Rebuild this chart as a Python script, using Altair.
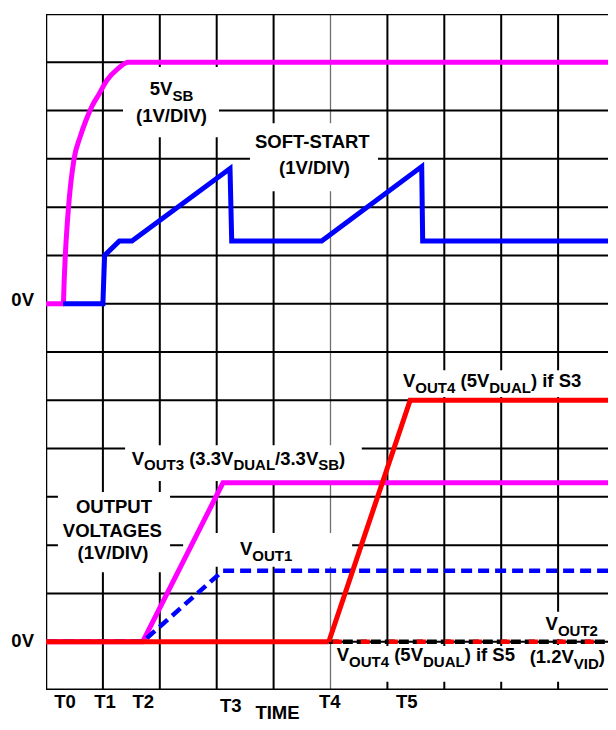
import altair as alt
import pandas as pd

# ---------------- data (x in time divisions, y in 1V divisions) ----------------
grid_cols = [0, 1, 2, 3, 4, 6, 7, 8, 9, 10]
grey_col = [5]
grid_rows = list(range(1, 14))

# upper traces (0V at division 8)
vsb_x = [0, 0.304, 0.32, 0.339, 0.395, 0.492, 0.598, 0.703, 0.808, 0.931, 1.072, 1.265, 1.447, 10]
vsb_y = [8, 8, 8.49, 8.99, 9.99, 10.99, 11.45, 11.80, 12.09, 12.34, 12.63, 12.87, 13.0, 13.0]
ss_x = [0.30, 1.0, 1.03, 1.29, 1.51, 3.234, 3.264, 4.845, 6.603, 6.62, 10]
ss_y = [8, 8, 9.0, 9.3, 9.3, 10.8, 9.3, 9.3, 10.84, 9.3, 9.3]

# lower traces (0V at division 1)
vout3_x = [0, 1.70, 3.11, 10]
vout3_y = [1, 1, 4.29, 4.29]
vout1_x = [0, 1.70, 3.11, 10]
vout1_y = [1, 1, 2.47, 2.47]
vout2_x = [4.97, 10]
vout2_y = [1, 1]
vout4s5_x = [4.97, 10]
vout4s5_y = [1, 1]
vout4s3_x = [0, 4.97, 6.40, 10]
vout4s3_y = [1, 1, 6, 6]

# white label backgrounds (data units)
box_x1 = [1.353, 3.585, 6.19, 1.39, 0.21, 2.41, 5.04, 8.36, 8.36]
box_x2 = [3.04, 5.835, 9.74, 5.55, 2.18, 5.38, 8.30, 10.1, 10.1]
box_y1 = [12.90, 11.74, 6.62, 5.07, 4.10, 3.25, 0.91, 1.62, 0.93]
box_y2 = [11.45, 10.33, 6.07, 4.33, 2.44, 2.55, 0.17, 1.05, 0.17]

# labels: segments (text, subscript?), anchor x, baseline y, align
labels = [
    ([("5V", 0), ("SB", 1)], 2.206, 12.32, "center"),
    ([("(1V/DIV)", 0)], 2.206, 11.77, "center"),
    ([("SOFT-START", 0)], 4.701, 11.22, "center"),
    ([("(1V/DIV)", 0)], 4.719, 10.69, "center"),
    ([("V", 0), ("OUT4", 1), (" (5V", 0), ("DUAL", 1), (") if S3", 0)], 6.274, 6.27, "left"),
    ([("V", 0), ("OUT3", 1), (" (3.3V", 0), ("DUAL", 1), ("/3.3V", 0), ("SB", 1), (")", 0)], 1.506, 4.66, "left"),
    ([("OUTPUT", 0)], 1.195, 3.665, "center"),
    ([("VOLTAGES", 0)], 1.19, 3.175, "center"),
    ([("(1V/DIV)", 0)], 1.178, 2.72, "center"),
    ([("V", 0), ("OUT1", 1)], 3.41, 2.795, "left"),
    ([("V", 0), ("OUT2", 1)], 8.78, 1.242, "left"),
    ([("(1.2V", 0), ("VID", 1), (")", 0)], 8.50, 0.553, "left"),
    ([("V", 0), ("OUT4", 1), (" (5V", 0), ("DUAL", 1), (") if S5", 0)], 5.109, 0.60, "left"),
]
zero_text = ["0V", "0V"]
zero_x = [-0.211, -0.211]
zero_y = [7.95, 0.89]
t_text = ["T0", "T1", "T2", "T3", "T4", "T5", "TIME"]
t_x = [0.334, 1.037, 1.71, 3.246, 4.986, 6.339, 4.069]
t_y = [-0.373, -0.373, -0.373, -0.449, -0.373, -0.373, -0.60]

# ---------------- layout helpers ----------------
PX_X = 569 / 10          # pixels per time division
PX_Y = 676 / 14          # pixels per volt division
W_PLOT, H_PLOT = 562, 676
X_MAX = W_PLOT / PX_X    # visible part of the 10-division screen
MAIN, SUB = 18.5, 15
SUB_DROP = 5.5
FONT = "Liberation Sans"

WIDTHS = {' ': 278, '(': 333, ')': 333, '.': 278, '/': 278, '-': 333,
          'A': 722, 'B': 722, 'D': 722, 'E': 667, 'F': 611, 'G': 778, 'I': 278,
          'L': 611, 'O': 778, 'P': 667, 'R': 722, 'S': 667, 'T': 611, 'U': 722,
          'V': 667, 'i': 278, 'f': 333}


def tw(s, size):
    return sum(WIDTHS.get(c, 556) for c in s) * size / 1000.0


rows = []
for segs, x0, y0, align in labels:
    total = sum(tw(t, SUB if s else MAIN) for t, s in segs)
    off = -total / 2 if align == "center" else 0.0
    for t, s in segs:
        size = SUB if s else MAIN
        lead = len(t) - len(t.lstrip(" "))
        rows.append(dict(text=t.strip(" "),
                         x=x0 + (off + tw(" " * lead, size)) / PX_X,
                         y=y0 - (SUB_DROP / PX_Y if s else 0.0),
                         kind="sub" if s else "main"))
        off += tw(t, size)
label_df = pd.DataFrame(rows)

xs = alt.Scale(domain=[0, X_MAX], nice=False, zero=False)
ys = alt.Scale(domain=[0, 14], nice=False, zero=False)


def X(f="x"):
    return alt.X(f"{f}:Q", scale=xs, axis=None)


def Y(f="y"):
    return alt.Y(f"{f}:Q", scale=ys, axis=None)


def series(xv, yv):
    return pd.DataFrame({"x": xv, "y": yv, "i": list(range(len(xv)))})


def line(xv, yv, color, width=5, dash=None, interp="linear", offset=0):
    kw = dict(color=color, strokeWidth=width, interpolate=interp, clip=True)
    if dash:
        kw["strokeDash"] = dash
        kw["strokeDashOffset"] = offset
    return alt.Chart(series(xv, yv)).mark_line(**kw).encode(x=X(), y=Y(), order="i:Q")


def rule(vals, ch, color="black", width=2):
    enc = {ch: (X() if ch == "x" else Y())}
    return alt.Chart(pd.DataFrame({ch: vals})).mark_rule(
        color=color, strokeWidth=width, clip=True).encode(**enc)


vgrid = rule(grid_cols, "x")
ggrid = rule(grey_col, "x", color="#707070", width=1.3)
hgrid = rule(grid_rows, "y")
top = rule([14], "y", width=2.5)
bottom = rule([0], "y", width=3)
left = rule([0], "x", width=2.5)

boxes = alt.Chart(pd.DataFrame({"x1": box_x1, "x2": box_x2, "y1": box_y1, "y2": box_y2})).mark_rect(
    color="white", clip=True).encode(x=X("x1"), x2="x2:Q", y=Y("y1"), y2="y2:Q")

traces = [
    line(vsb_x, vsb_y, "#FF00FF", interp="monotone"),
    line(ss_x, ss_y, "#0000FF"),
    line(vout3_x, vout3_y, "#FF00FF"),
    line(vout1_x, vout1_y, "#0000FF", width=4.5, dash=[11, 6]),
    line(vout2_x, vout2_y, "black", width=4.5, dash=[10, 4]),
    line(vout4s5_x, vout4s5_y, "#FF0000", width=4.5, dash=[9, 19], offset=-4),
    line(vout4s3_x[:2], vout4s3_y[:2], "#FF0000"),
    line(vout4s3_x[1:], vout4s3_y[1:], "#FF0000"),
]


def text_layer(df, size, align):
    return alt.Chart(df).mark_text(
        align=align, baseline="alphabetic", font=FONT, fontWeight="bold", fontSize=size, color="black"
    ).encode(x=X(), y=Y(), text="text:N")


main_text = text_layer(label_df[label_df.kind == "main"], MAIN, "left")
sub_text = text_layer(label_df[label_df.kind == "sub"], SUB, "left")
zero_lbl = text_layer(pd.DataFrame({"text": zero_text, "x": zero_x, "y": zero_y}), MAIN, "right")
t_lbl = text_layer(pd.DataFrame({"text": t_text, "x": t_x, "y": t_y}), MAIN, "center")

chart = alt.layer(
    vgrid, ggrid, hgrid, top, bottom, left, boxes, *traces, main_text, sub_text, zero_lbl, t_lbl
).properties(
    width=W_PLOT, height=H_PLOT,
    autosize=alt.AutoSizeParams(type="none"),
    padding={"left": 38, "top": 6, "right": 0, "bottom": 32},
    background="white",
).configure_view(stroke=None)

chart.save("out.html", embed_options={"renderer": "svg", "actions": False})
